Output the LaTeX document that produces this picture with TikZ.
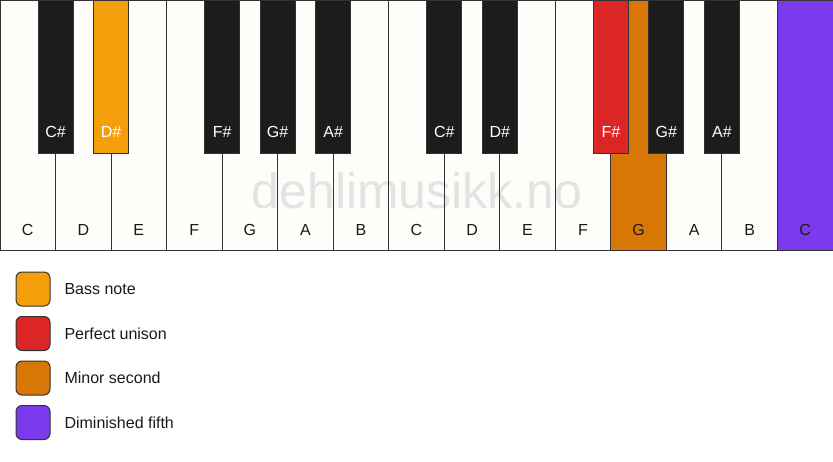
\documentclass[tikz,border=0pt]{standalone}
\usepackage{fontspec}
\setmainfont{Liberation Sans}
\definecolor{ivory}{HTML}{FFFDF9}
\definecolor{keyblack}{HTML}{1C1C1C}
\definecolor{keyline}{HTML}{333333}
\definecolor{bass}{HTML}{F59E0B}
\definecolor{unison}{HTML}{DC2626}
\definecolor{minorsec}{HTML}{D97706}
\definecolor{dimfifth}{HTML}{7C3AED}
\tikzset{
  keyedge/.style={draw=keyline, line width=1pt},
  keytext/.style={font=\fontsize{16}{19}\selectfont},
  legbox/.style={draw=keyline, line width=1pt, rounded corners=6pt, minimum size=34pt, inner sep=0pt}
}
\begin{document}
\begin{tikzpicture}[x=1pt, y=-1pt]
\useasboundingbox (0,0) rectangle (833,461);

% white keys
\foreach \name/\col [count=\i from 0] in {C/ivory,D/ivory,E/ivory,F/ivory,G/ivory,A/ivory,B/ivory,C/ivory,D/ivory,E/ivory,F/ivory,G/minorsec,A/ivory,B/ivory,C/dimfifth} {
  \fill[\col] (\i*55.533,0) rectangle ++(55.533,250);
  \node[keytext, text=black!90] (w\i) at (\i*55.533+27.767,230) {\name};
}

% watermark
\node[font=\fontsize{50}{52}\selectfont, text=black!11] (mark) at (417,191) {dehlimusikk.no};

\foreach \i in {0,...,14}
  \draw[keyedge] (\i*55.533,0) rectangle ++(55.533,250);

% black keys
\foreach \b/\name/\col in {0/C\#/keyblack,1/D\#/bass,3/F\#/keyblack,4/G\#/keyblack,5/A\#/keyblack,
    7/C\#/keyblack,8/D\#/keyblack,10/F\#/unison,11/G\#/keyblack,12/A\#/keyblack} {
  \draw[keyedge, fill=\col] (\b*55.533+38.033,0) rectangle ++(35,153);
  \node[keytext, text=white] (b\b) at (\b*55.533+55.533,132) {\name};
}

% legend
\foreach \col/\txt [count=\j from 0] in {bass/Bass note,unison/Perfect unison,minorsec/Minor second,dimfifth/Diminished fifth} {
  \node[legbox, fill=\col] (l\j) at (33,289+\j*44.5) {};
  \node[keytext, anchor=west, text=black!90] (t\j) at (61,289+\j*44.5) {\txt};
}

\end{tikzpicture}
\end{document}
